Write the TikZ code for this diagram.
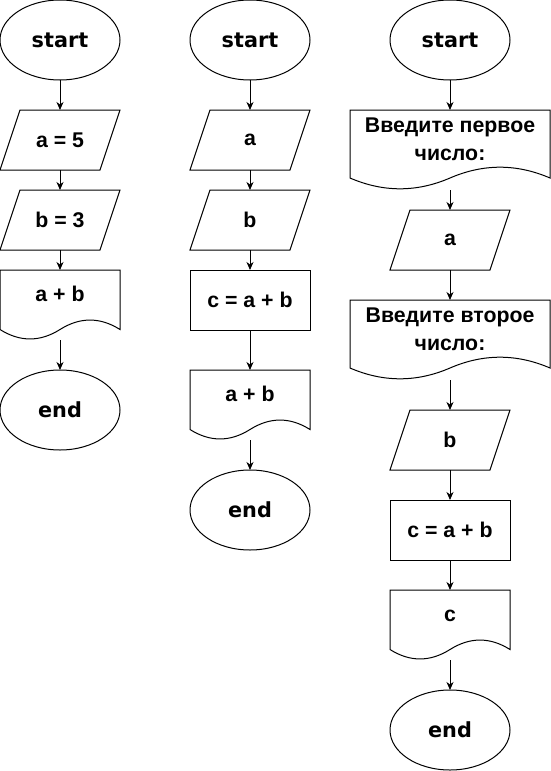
\documentclass[tikz,border=0pt]{standalone}
\usepackage{fontspec}
\setmainfont{Liberation Sans}
\newfontfamily\termfont{DejaVu Sans}
\usetikzlibrary{shapes.geometric,arrows.meta,calc}
\newcommand\docup[2]{\raisebox{#1}[0pt][0pt]{#2}}
\newcommand\twoline[2]{\begin{tabular}[b]{@{}c@{}}#1\\#2\end{tabular}}
\tikzset{
  outl/.style={line width=1pt, line join=miter, draw=black},
  lbl/.style={inner sep=0pt, outer sep=0pt, text=black, font=\bfseries\fontsize{21.3}{28}\selectfont},
  term/.style={lbl, draw, ellipse, line width=1pt, minimum width=120pt, minimum height=80pt, font=\termfont\bfseries\fontsize{20.8}{25}\selectfont},
  iobox/.style={lbl, minimum width=120pt, minimum height=60pt},
  proc/.style={lbl, draw, line width=1pt, minimum width=120pt, minimum height=60pt},
  docbox/.style 2 args={lbl, minimum width=#1pt, minimum height=#2pt},
  arr/.style={line width=1pt, -{Stealth[length=8pt,width=7pt,inset=2.5pt]}}
}
\newcommand\ioshape[1]{\draw[outl] ($(#1.north west)+(20,0)$) -- (#1.north east) -- ($(#1.south east)+(-20,0)$) -- (#1.south west) -- cycle;}
\newcommand\docshape[3]{\draw[outl, shift={(#1.north west)}] (0,0) -- (#2,0) -- (#2,{0.85*#3}) .. controls ({#2*5/6},{0.67*#3}) and ({#2*4/6},{0.67*#3}) .. ({#2/2},{0.85*#3}) .. controls ({#2/3},{1.03*#3}) and ({#2/6},{1.03*#3}) .. (0,{0.85*#3}) -- cycle;}
\begin{document}
\begin{tikzpicture}[x=1pt,y=-1pt]
\useasboundingbox[fill=white] (0,0) rectangle (551,771);
% column 1
\node[term] (s1) at (60,40) {start};
\node[iobox] (a1) at (60,140) {a = 5}; \ioshape{a1}
\node[iobox] (b1) at (60,220) {b = 3}; \ioshape{b1}
\node[docbox={120}{70}] (d1) at (60,305) {\docup{3.3pt}{a + b}}; \docshape{d1}{120}{70}
\node[term] (e1) at (60,410) {end};
\draw[arr] (s1) -- (a1);
\draw[arr] (a1) -- (b1);
\draw[arr] (b1) -- (d1);
\draw[arr] (d1) -- (e1);
% column 2
\node[term] (s2) at (250,40) {start};
\node[iobox] (a2) at (250,140) {a}; \ioshape{a2}
\node[iobox] (b2) at (250,220) {b}; \ioshape{b2}
\node[proc] (c2) at (250,300) {c = a + b};
\node[docbox={120}{70}] (d2) at (250,405) {\docup{3.3pt}{a + b}}; \docshape{d2}{120}{70}
\node[term] (e2) at (250,510) {end};
\draw[arr] (s2) -- (a2);
\draw[arr] (a2) -- (b2);
\draw[arr] (b2) -- (c2);
\draw[arr] (c2) -- (d2);
\draw[arr] (d2) -- (e2);
% column 3
\node[term] (s3) at (450,40) {start};
\node[docbox={200}{80}] (d31) at (450,150) {\docup{-10pt}{\twoline{Введите первое}{число:}}}; \docshape{d31}{200}{80}
\node[iobox] (a3) at (450,240) {a}; \ioshape{a3}
\node[docbox={200}{80}] (d32) at (450,340) {\docup{-10pt}{\twoline{Введите второе}{число:}}}; \docshape{d32}{200}{80}
\node[iobox] (b3) at (450,440) {b}; \ioshape{b3}
\node[proc] (c3) at (450,530) {c = a + b};
\node[docbox={120}{70}] (d33) at (450,625) {\docup{3.3pt}{c}}; \docshape{d33}{120}{70}
\node[term] (e3) at (450,730) {end};
\draw[arr] (s3) -- (d31);
\draw[arr] (d31) -- (a3);
\draw[arr] (a3) -- (d32);
\draw[arr] (d32) -- (b3);
\draw[arr] (b3) -- (c3);
\draw[arr] (c3) -- (d33);
\draw[arr] (d33) -- (e3);
\end{tikzpicture}
\end{document}
